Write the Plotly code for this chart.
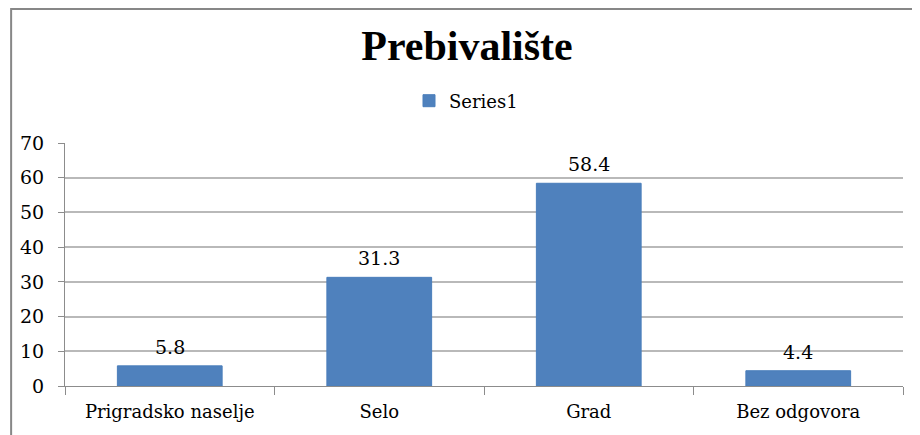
import plotly.graph_objects as go

categories = ["Prigradsko naselje", "Selo", "Grad", "Bez odgovora"]
values = [5.8, 31.3, 58.4, 4.4]
series_name = "Series1"
title_text = "Prebivalište"
y_ticks = [0, 10, 20, 30, 40, 50, 60, 70]

TITLE_FONT = "Liberation Serif"
FONT = "DejaVu Serif"
BAR = "#4F81BD"
GRID = "#B9B9B9"
AXIS = "#8C8C8C"

# page body adds ~8px offset; figure sized to fit the 920x435 window
W, H = 912, 427
ML, MR, MT, MB = 55, 17, 135, 49
PW, PH = W - ML - MR, H - MT - MB

fig = go.Figure()
fig.add_trace(go.Bar(
    x=categories, y=values, name=series_name,
    marker=dict(color=BAR, line=dict(color="#4A7EBB", width=1)),
    width=0.5,
    showlegend=True,
))

# value labels above bars
for c, v in zip(categories, values):
    fig.add_annotation(x=c, y=v, text=f"{v:.1f}", showarrow=False,
                       yanchor="bottom", yshift=6,
                       font=dict(family=FONT, size=19, color="#000000"))

# outer chart border (top and left visible, right/bottom cropped)
fig.add_shape(type="rect", xref="paper", yref="paper",
              x0=(1 - ML) / PW, x1=(W + 20 - ML) / PW,
              y0=-(H + 20 - MT - PH) / PH, y1=1 + (MT - 1) / PH,
              line=dict(color="#878787", width=2), layer="below")

fig.update_layout(
    width=W, height=H,
    margin=dict(l=ML, r=MR, t=MT, b=MB),
    paper_bgcolor="white", plot_bgcolor="white",
    font=dict(family=FONT, size=18, color="#000000"),
    title=dict(text=f"<b>{title_text}</b>", x=459 / W, xanchor="center",
               y=1 - 37 / H, yanchor="middle", yref="container", xref="container",
               font=dict(family=TITLE_FONT, size=42, color="#000000")),
    legend=dict(orientation="h", xref="container", yref="container",
                x=458 / W, xanchor="center", y=1 - 93 / H, yanchor="middle",
                font=dict(family=FONT, size=18), itemwidth=30,
                bgcolor="rgba(0,0,0,0)"),
    bargap=0.5,
    xaxis=dict(type="category", tickson="boundaries", ticks="outside",
               ticklen=8, tickcolor=AXIS, showline=True, linecolor=AXIS,
               linewidth=1, showgrid=False, range=[-0.5, len(categories) - 0.5],
               ticklabelstandoff=9,
               tickfont=dict(family=FONT, size=18, color="#000000")),
    yaxis=dict(range=[0, 70], tickvals=y_ticks, ticks="outside", ticklen=6,
               tickcolor=AXIS, showline=True, linecolor=AXIS, linewidth=1,
               showgrid=True, gridcolor=GRID, gridwidth=1.5, zeroline=False,
               ticklabelstandoff=10,
               tickfont=dict(family=FONT, size=19, color="#000000")),
)

fig.write_html("out.html")
